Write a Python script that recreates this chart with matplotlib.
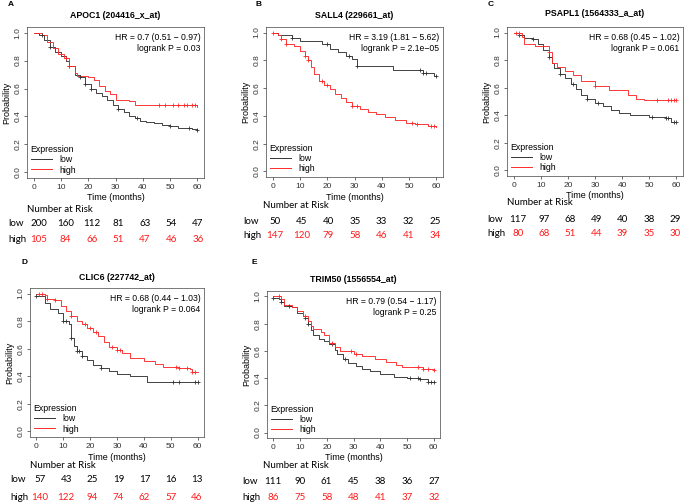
import numpy as np
import matplotlib
matplotlib.use("Agg")
import matplotlib.pyplot as plt

plt.rcParams['font.family'] = ['Liberation Sans', 'DejaVu Sans']

W, H = 685, 503

# ---------------- data ----------------
panels = ["A", "B", "C", "D", "E"]
titles = ["APOC1 (204416_x_at)", "SALL4 (229661_at)", "PSAPL1 (1564333_a_at)",
          "CLIC6 (227742_at)", "TRIM50 (1556554_at)"]
hr_text = ["HR = 0.7 (0.51 \u2212 0.97)\nlogrank P = 0.03",
           "HR = 3.19 (1.81 \u2212 5.62)\nlogrank P = 2.1e\u221205",
           "HR = 0.68 (0.45 \u2212 1.02)\nlogrank P = 0.061",
           "HR = 0.68 (0.44 \u2212 1.03)\nlogrank P = 0.064",
           "HR = 0.79 (0.54 \u2212 1.17)\nlogrank P = 0.25"]

risk_times = [0, 10, 20, 30, 40, 50, 60]
risk_low = [[200, 160, 112, 81, 63, 54, 47],
            [50, 45, 40, 35, 33, 32, 25],
            [117, 97, 68, 49, 40, 38, 29],
            [57, 43, 25, 19, 17, 16, 13],
            [111, 90, 61, 45, 38, 36, 27]]
risk_high = [[105, 84, 66, 51, 47, 46, 36],
             [147, 120, 79, 58, 46, 41, 34],
             [80, 68, 51, 44, 39, 35, 30],
             [140, 122, 94, 74, 62, 57, 46],
             [86, 75, 58, 48, 41, 37, 32]]

# survival step knots (time, probability)
low_t = [
    [0, 2, 4, 6, 8, 10, 12, 13, 15, 17, 19, 21, 23, 25, 27, 29, 31, 33, 35, 37, 39, 41, 44, 47, 50, 53, 58, 60],
    [0, 2, 7, 10, 18, 21, 24, 27, 29, 31, 44, 55, 59, 60],
    [0, 2, 4, 7, 9, 11, 13, 14, 15, 17, 19, 21, 23, 25, 27, 30, 33, 36, 39, 43, 50, 56, 58, 60],
    [0, 3, 5, 8, 10, 12, 13, 14, 15, 17, 19, 21, 24, 27, 30, 35, 41, 60],
    [0, 2, 3, 4, 7, 9, 11, 12, 13, 14, 15, 17, 19, 21, 23, 24, 26, 28, 31, 33, 36, 40, 45, 50, 55, 58, 60]]
low_s = [
    [1.0, 0.98, 0.95, 0.90, 0.86, 0.83, 0.80, 0.76, 0.70, 0.68, 0.63, 0.60, 0.57, 0.55, 0.52, 0.48, 0.45, 0.43, 0.40, 0.39, 0.37, 0.36, 0.35, 0.34, 0.33, 0.32, 0.31, 0.30],
    [1.0, 0.98, 0.96, 0.94, 0.92, 0.88, 0.86, 0.83, 0.81, 0.76, 0.73, 0.71, 0.69, 0.69],
    [1.0, 0.98, 0.96, 0.95, 0.92, 0.87, 0.82, 0.78, 0.74, 0.70, 0.67, 0.63, 0.59, 0.55, 0.52, 0.49, 0.47, 0.44, 0.42, 0.40, 0.39, 0.38, 0.35, 0.35],
    [0.98, 0.93, 0.89, 0.86, 0.80, 0.78, 0.68, 0.62, 0.58, 0.55, 0.52, 0.48, 0.46, 0.44, 0.42, 0.40, 0.36, 0.36],
    [0.99, 0.98, 0.96, 0.93, 0.92, 0.88, 0.86, 0.84, 0.80, 0.75, 0.72, 0.69, 0.67, 0.65, 0.61, 0.58, 0.54, 0.51, 0.49, 0.47, 0.45, 0.43, 0.41, 0.40, 0.39, 0.37, 0.37]]
high_t = [
    [0, 3, 5, 7, 9, 11, 13, 15, 16, 20, 22, 24, 26, 28, 30, 35, 37, 60],
    [0, 2, 3, 5, 8, 10, 12, 13, 14, 15, 17, 19, 21, 23, 25, 27, 29, 32, 35, 38, 41, 45, 49, 52, 57, 60],
    [0, 3, 4, 8, 13, 14, 16, 19, 22, 25, 30, 35, 42, 45, 48, 60],
    [0, 3, 4, 7, 9, 11, 13, 15, 17, 19, 21, 23, 25, 27, 30, 32, 35, 40, 44, 47, 53, 57, 58, 60],
    [0, 3, 4, 7, 9, 11, 13, 14, 15, 18, 19, 21, 23, 25, 30, 33, 38, 42, 46, 48, 56, 60]]
high_s = [
    [1.0, 0.98, 0.93, 0.89, 0.85, 0.82, 0.76, 0.71, 0.69, 0.68, 0.66, 0.62, 0.58, 0.56, 0.52, 0.51, 0.48, 0.47],
    [1.0, 0.98, 0.95, 0.92, 0.90, 0.87, 0.83, 0.80, 0.75, 0.70, 0.65, 0.62, 0.59, 0.56, 0.53, 0.50, 0.47, 0.45, 0.43, 0.41, 0.39, 0.37, 0.35, 0.34, 0.33, 0.32],
    [1.0, 0.97, 0.92, 0.90, 0.86, 0.78, 0.75, 0.72, 0.69, 0.65, 0.61, 0.58, 0.55, 0.52, 0.51, 0.51],
    [1.0, 0.99, 0.96, 0.95, 0.91, 0.87, 0.84, 0.80, 0.78, 0.75, 0.72, 0.69, 0.65, 0.61, 0.59, 0.57, 0.53, 0.51, 0.49, 0.47, 0.46, 0.45, 0.43, 0.43],
    [1.0, 0.98, 0.94, 0.92, 0.89, 0.86, 0.82, 0.78, 0.76, 0.74, 0.72, 0.66, 0.63, 0.60, 0.58, 0.56, 0.54, 0.52, 0.50, 0.48, 0.47, 0.46]]

# censoring times
low_cens = [[3, 6, 13, 17, 19, 21, 31, 38, 50, 57, 60],
            [7, 20, 28, 31, 54, 55, 56, 60],
            [2, 7, 13, 17, 22, 27, 31, 51, 56, 57, 59, 60],
            [0, 10, 11, 13, 15, 16, 17, 24, 51, 53, 59, 60],
            [0, 3, 6, 12, 13, 22, 27, 51, 54, 55, 58, 59, 60]]
high_cens = [[12, 13, 46, 48, 51, 53, 55, 56, 58, 59],
             [0, 3, 5, 12, 13, 18, 20, 29, 31, 51, 53, 58, 59],
             [1, 2, 13, 30, 53, 57, 58, 59, 60],
             [1, 2, 4, 7, 13, 18, 20, 22, 28, 30, 31, 52, 53, 56, 58, 59],
             [2, 12, 22, 29, 31, 54, 56, 58, 60]]

# ---------------- layout (pixels) ----------------
boxes = [(27, 204, 27, 178), (266, 443, 27, 177), (507, 683, 27, 176),
         (30, 204, 288, 437), (267, 440, 291, 438)]
letter_xy = [(8, 5), (256, 5), (488, 5), (22, 262), (252, 262)]
title_y = [15, 15, 14, 277, 279]
xlab_y = [198, 197, 195, 457, 457]
nar_xy = [(27, 209), (263, 205), (507, 203), (30, 465), (263, 466)]
row_x = [8, 243, 487, 10, 242]
row_y = [(224, 240), (221, 236), (219, 234), (480, 497), (482, 498)]
col_span = [(39, 198), (275, 435), (518, 675), (40, 197), (273, 434)]

RED = '#ff2a2a'
GREY = '#333333'
TABFONT = ['Lato', 'DejaVu Sans']

fig = plt.figure(figsize=(W / 100, H / 100), dpi=100)


def surv_at(t, s, x):
    i = np.searchsorted(t, x, side='right') - 1
    return np.array(s)[np.clip(i, 0, len(s) - 1)]


def fx(px):
    return px / W


def fy(py):
    return 1 - py / H


for k in range(5):
    l, r, t, b = boxes[k]
    ax = fig.add_axes([fx(l), fy(b), (r - l) / W, (b - t) / H])
    ax.step(low_t[k], low_s[k], where='post', color=GREY, lw=0.65)
    ax.step(high_t[k], high_s[k], where='post', color=RED, lw=0.65)
    ax.plot(low_cens[k], surv_at(low_t[k], low_s[k], low_cens[k]), '+',
            color=GREY, ms=3.5, mew=0.6)
    ax.plot(high_cens[k], surv_at(high_t[k], high_s[k], high_cens[k]), '+',
            color=RED, ms=3.5, mew=0.6)
    ax.set_xlim(-2.4, 62.4)
    ax.set_ylim(-0.04, 1.04)
    ax.set_xticks(risk_times)
    ax.set_yticks([0, 0.2, 0.4, 0.6, 0.8, 1.0])
    ax.set_yticklabels(['0.0', '0.2', '0.4', '0.6', '0.8', '1.0'], rotation=90, va='center')
    ax.tick_params(labelsize=6, length=2.5, width=0.5, pad=1.5, colors='#333333')
    for sp in ax.spines.values():
        sp.set_linewidth(0.5)
        sp.set_color('#444444')
    ax.set_ylabel('Probability', fontsize=6.5, labelpad=2)
    ax.text(0.98, 0.96, hr_text[k], transform=ax.transAxes, ha='right', va='top',
            fontsize=6.2, linespacing=1.25)
    leg = ax.legend(['low', 'high'], loc='lower left', frameon=False, fontsize=6.3,
                    title='Expression', title_fontsize=6.3, handlelength=2.5,
                    borderaxespad=0.2, labelspacing=0.15, handletextpad=0.8,
                    borderpad=0.2)
    leg._legend_box.align = 'left'
    for h in leg.legend_handles:
        h.set_linewidth(0.7)

    cx = fx((l + r) / 2)
    fig.text(cx, fy(title_y[k]), titles[k], ha='center', va='center',
             fontsize=6.3, fontweight='bold')
    fig.text(fx(letter_xy[k][0]), fy(letter_xy[k][1]), panels[k], ha='left',
             va='center', fontsize=6, fontweight='bold')
    fig.text(cx, fy(xlab_y[k]), 'Time (months)', ha='center', va='center',
             fontsize=6.5)
    fig.text(fx(nar_xy[k][0]), fy(nar_xy[k][1]), 'Number at Risk', ha='left',
             va='center', fontsize=7, family=TABFONT)
    ylo, yhi = row_y[k]
    fig.text(fx(row_x[k]), fy(ylo), 'low', ha='left', va='center', fontsize=7,
             family=TABFONT)
    fig.text(fx(row_x[k]), fy(yhi), 'high', ha='left', va='center', fontsize=7,
             family=TABFONT)
    cols = np.linspace(col_span[k][0], col_span[k][1], len(risk_times))
    for j in range(len(risk_times)):
        fig.text(fx(cols[j]), fy(ylo), str(risk_low[k][j]), ha='center',
                 va='center', fontsize=7, family=TABFONT)
        fig.text(fx(cols[j]), fy(yhi), str(risk_high[k][j]), ha='center',
                 va='center', fontsize=7, color='#ff1a1a', family=TABFONT)

fig.savefig('out.png', dpi=100)
